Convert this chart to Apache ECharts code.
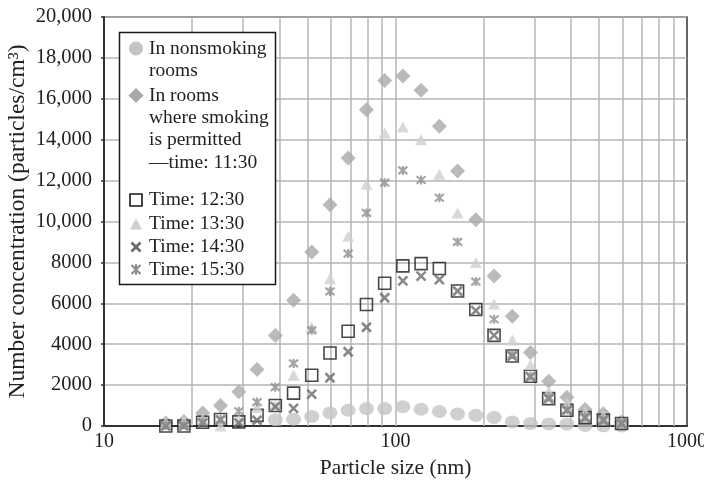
<!DOCTYPE html>
<html>
<head>
<meta charset="utf-8">
<script src="https://cdn.jsdelivr.net/npm/echarts@6/dist/echarts.min.js"></script>
<style>
  html, body { margin: 0; padding: 0; background: #fff; }
  #chart { width: 704px; height: 484px; }
</style>
</head>
<body>
<div id="chart"></div>
<script>
// Particle size bins (nm), 16 channels per decade
const sizeNm = [16.3, 18.8, 21.8, 25.1, 29.0, 33.5, 38.7, 44.7, 51.6, 59.6, 68.8, 79.5, 91.8,
  106.0, 122.4, 141.4, 163.3, 188.6, 217.8, 251.5, 290.4, 335.4, 387.3, 447.2, 516.5, 596.4];

// Number concentration (particles/cm3) per bin
const nonsmoking = [null, null, null, null, null, null, 310, 330, 470, 640, 770, 850, 850,
  940, 820, 710, 590, 520, 420, 200, 120, 100, 90, 30, 10, 0];
const smoking1130 = [150, 220, 640, 1000, 1680, 2760, 4420, 6150, 8510, 10820, 13110, 15470, 16890,
  17120, 16420, 14660, 12470, 10080, 7330, 5370, 3600, 2190, 1400, 810, 600, 200];
const time1230 = [0, 0, 180, 320, 200, 520, 1000, 1610, 2480, 3570, 4630, 5940, 6980,
  7830, 7940, 7700, 6600, 5700, 4430, 3420, 2430, 1340, 770, 410, 280, 120];
const time1330 = [200, 250, 350, 0, 300, 900, 1000, 2480, 4840, 7200, 9280, 11820, 14330,
  14620, 14000, 12310, 10420, 8000, 5970, 4200, 3000, 1700, 1100, 700, 500, 200];
const time1430 = [0, 0, 150, 300, 150, 280, 950, 860, 1560, 2360, 3630, 4830, 6270,
  7100, 7330, 7160, 6600, 5640, 4430, 3420, 2400, 1340, 770, 410, 280, 120];
const time1530 = [50, 50, 200, 330, 720, 1170, 1900, 3060, 4680, 6580, 8430, 10420, 11900,
  12500, 12030, 11160, 9000, 7060, 5220, 3500, 2450, 1400, 800, 450, 300, 150];

const seriesNames = [
  'In nonsmoking\nrooms',
  'In rooms\nwhere smoking\nis permitted\n\u2014time: 11:30',
  'Time: 12:30',
  'Time: 13:30',
  'Time: 14:30',
  'Time: 15:30'
];

// Axis ticks and labels
const yTickLabels = ['0', '2000', '4000', '6000', '8000', '10,000', '12,000', '14,000', '16,000', '18,000', '20,000'];
const xGridValues = [20, 30, 40, 50, 60, 70, 80, 90, 100, 200, 300, 400, 500, 600, 700, 800, 900];

const FONT = 'Liberation Serif';
const INK = '#222';

const crossPath = 'path://M0,0L10,10M10,0L0,10';
const starPath = 'path://M0,0L10,10M10,0L0,10M5,-1L5,11';

const styles = [
  { symbol: 'circle', size: [15, 13], item: { color: '#c4c4c4' } },
  { symbol: 'diamond', size: [15, 15], item: { color: '#a9a9a9' } },
  { symbol: 'rect', size: [12, 12], item: { color: 'rgba(0,0,0,0)', borderColor: '#1a1a1a', borderWidth: 1.6 } },
  { symbol: 'triangle', size: [12, 11], item: { color: '#d0d0d0' } },
  { symbol: crossPath, size: [9, 9], item: { color: 'none', borderColor: '#6b6b6b', borderWidth: 2.6 } },
  { symbol: starPath, size: [9, 9], item: { color: 'none', borderColor: '#8e8e8e', borderWidth: 2.2 } }
];
const seriesData = [nonsmoking, smoking1130, time1230, time1330, time1430, time1530];
// drawing order: circles, diamonds, triangles, squares, crosses, stars
const drawOrder = [0, 1, 3, 2, 4, 5];

function toPoints(values) {
  const pts = [];
  values.forEach((v, i) => { if (v != null) pts.push([sizeNm[i], v]); });
  return pts;
}

const series = [{
  type: 'scatter',
  name: 'grid',
  data: [],
  silent: true,
  z: 1,
  markLine: {
    silent: true,
    z: 1,
    symbol: ['none', 'none'],
    label: { show: false },
    lineStyle: { color: '#b4b4b4', width: 1.5, type: 'solid' },
    emphasis: { disabled: true },
    animation: false,
    data: xGridValues.map(v => ({ xAxis: v }))
  }
}];
drawOrder.forEach(k => {
  series.push({
    type: 'scatter',
    name: seriesNames[k],
    data: toPoints(seriesData[k]),
    symbol: styles[k].symbol,
    symbolSize: styles[k].size,
    itemStyle: styles[k].item,
    clip: false,
    z: 3 + k
  });
});

// Legend panel
const legendX = 136;
const textX = 149;
const lineH = 22.4;
const legendRows = [
  { k: 0, cy: 48.5 },
  { k: 1, cy: 95.5 },
  { k: 2, cy: 200 },
  { k: 3, cy: 224 },
  { k: 4, cy: 247 },
  { k: 5, cy: 269.5 }
];
const graphics = [{
  type: 'rect',
  shape: { x: 119.5, y: 32.5, width: 156, height: 252 },
  style: { fill: '#fff', stroke: '#1a1a1a', lineWidth: 1.5 },
  z: 20
}];
function strokeLine(x1, y1, x2, y2, color, width) {
  return { type: 'line', z: 21, shape: { x1: x1, y1: y1, x2: x2, y2: y2 }, style: { stroke: color, lineWidth: width } };
}
legendRows.forEach(r => {
  const st = styles[r.k];
  const w = st.size[0], h = st.size[1];
  const cx = legendX, cy = r.cy;
  if (st.symbol === 'circle') {
    graphics.push({ type: 'circle', z: 21, shape: { cx: cx, cy: cy, r: 7 }, style: { fill: st.item.color } });
  } else if (st.symbol === 'diamond') {
    graphics.push({ type: 'polygon', z: 21, shape: { points: [[cx, cy - h / 2], [cx + w / 2, cy], [cx, cy + h / 2], [cx - w / 2, cy]] }, style: { fill: st.item.color } });
  } else if (st.symbol === 'rect') {
    graphics.push({ type: 'rect', z: 21, shape: { x: cx - w / 2, y: cy - h / 2, width: w, height: h }, style: { fill: 'none', stroke: st.item.borderColor, lineWidth: st.item.borderWidth } });
  } else if (st.symbol === 'triangle') {
    graphics.push({ type: 'polygon', z: 21, shape: { points: [[cx, cy - h / 2], [cx + w / 2, cy + h / 2], [cx - w / 2, cy + h / 2]] }, style: { fill: st.item.color } });
  } else {
    const c = st.item.borderColor, lw = st.item.borderWidth;
    graphics.push(strokeLine(cx - w / 2, cy - h / 2, cx + w / 2, cy + h / 2, c, lw));
    graphics.push(strokeLine(cx + w / 2, cy - h / 2, cx - w / 2, cy + h / 2, c, lw));
    if (st.symbol === starPath) {
      graphics.push(strokeLine(cx, cy - h / 2 - 0.8, cx, cy + h / 2 + 0.8, c, lw));
    }
  }
  graphics.push({
    type: 'text',
    x: textX,
    y: cy - lineH / 2,
    z: 21,
    style: {
      text: seriesNames[r.k],
      font: '19.5px "' + FONT + '"',
      lineHeight: lineH,
      fill: INK,
      verticalAlign: 'top',
      align: 'left'
    }
  });
});

const chart = echarts.init(document.getElementById('chart'), null, { renderer: 'canvas' });
chart.setOption({
  animation: false,
  backgroundColor: '#fff',
  textStyle: { fontFamily: FONT },
  grid: {
    left: 104, right: 17, top: 17, bottom: 58,
    containLabel: false,
    outerBoundsMode: 'none',
    show: true, borderColor: '#333', borderWidth: 1.5, backgroundColor: 'transparent'
  },
  xAxis: {
    type: 'log',
    logBase: 10,
    min: 10,
    max: 1000,
    name: 'Particle size (nm)',
    nameLocation: 'middle',
    nameGap: 31,
    nameMoveOverlap: false,
    nameTextStyle: { fontFamily: FONT, fontSize: 21.5, color: INK },
    axisLine: { lineStyle: { color: '#333', width: 2 } },
    axisTick: { show: false },
    splitLine: { show: false },
    axisLabel: { fontFamily: FONT, fontSize: 20, color: INK, margin: 6, formatter: v => String(Math.round(v)) }
  },
  yAxis: {
    type: 'value',
    min: 0,
    max: 20000,
    interval: 2000,
    name: 'Number concentration (particles/cm\u00b3)',
    nameLocation: 'middle',
    nameGap: 74,
    nameMoveOverlap: false,
    nameTextStyle: { fontFamily: FONT, fontSize: 23.5, color: INK },
    axisLine: { show: true, lineStyle: { color: '#333', width: 2 } },
    axisTick: { show: true, length: 3, lineStyle: { color: '#333', width: 1.5 } },
    splitLine: { show: true, lineStyle: { color: '#b4b4b4', width: 1.5 } },
    axisLabel: { fontFamily: FONT, fontSize: 20.5, color: INK, margin: 12, formatter: v => yTickLabels[Math.round(v / 2000)] }
  },
  series: series,
  graphic: graphics
});
</script>
</body>
</html>
